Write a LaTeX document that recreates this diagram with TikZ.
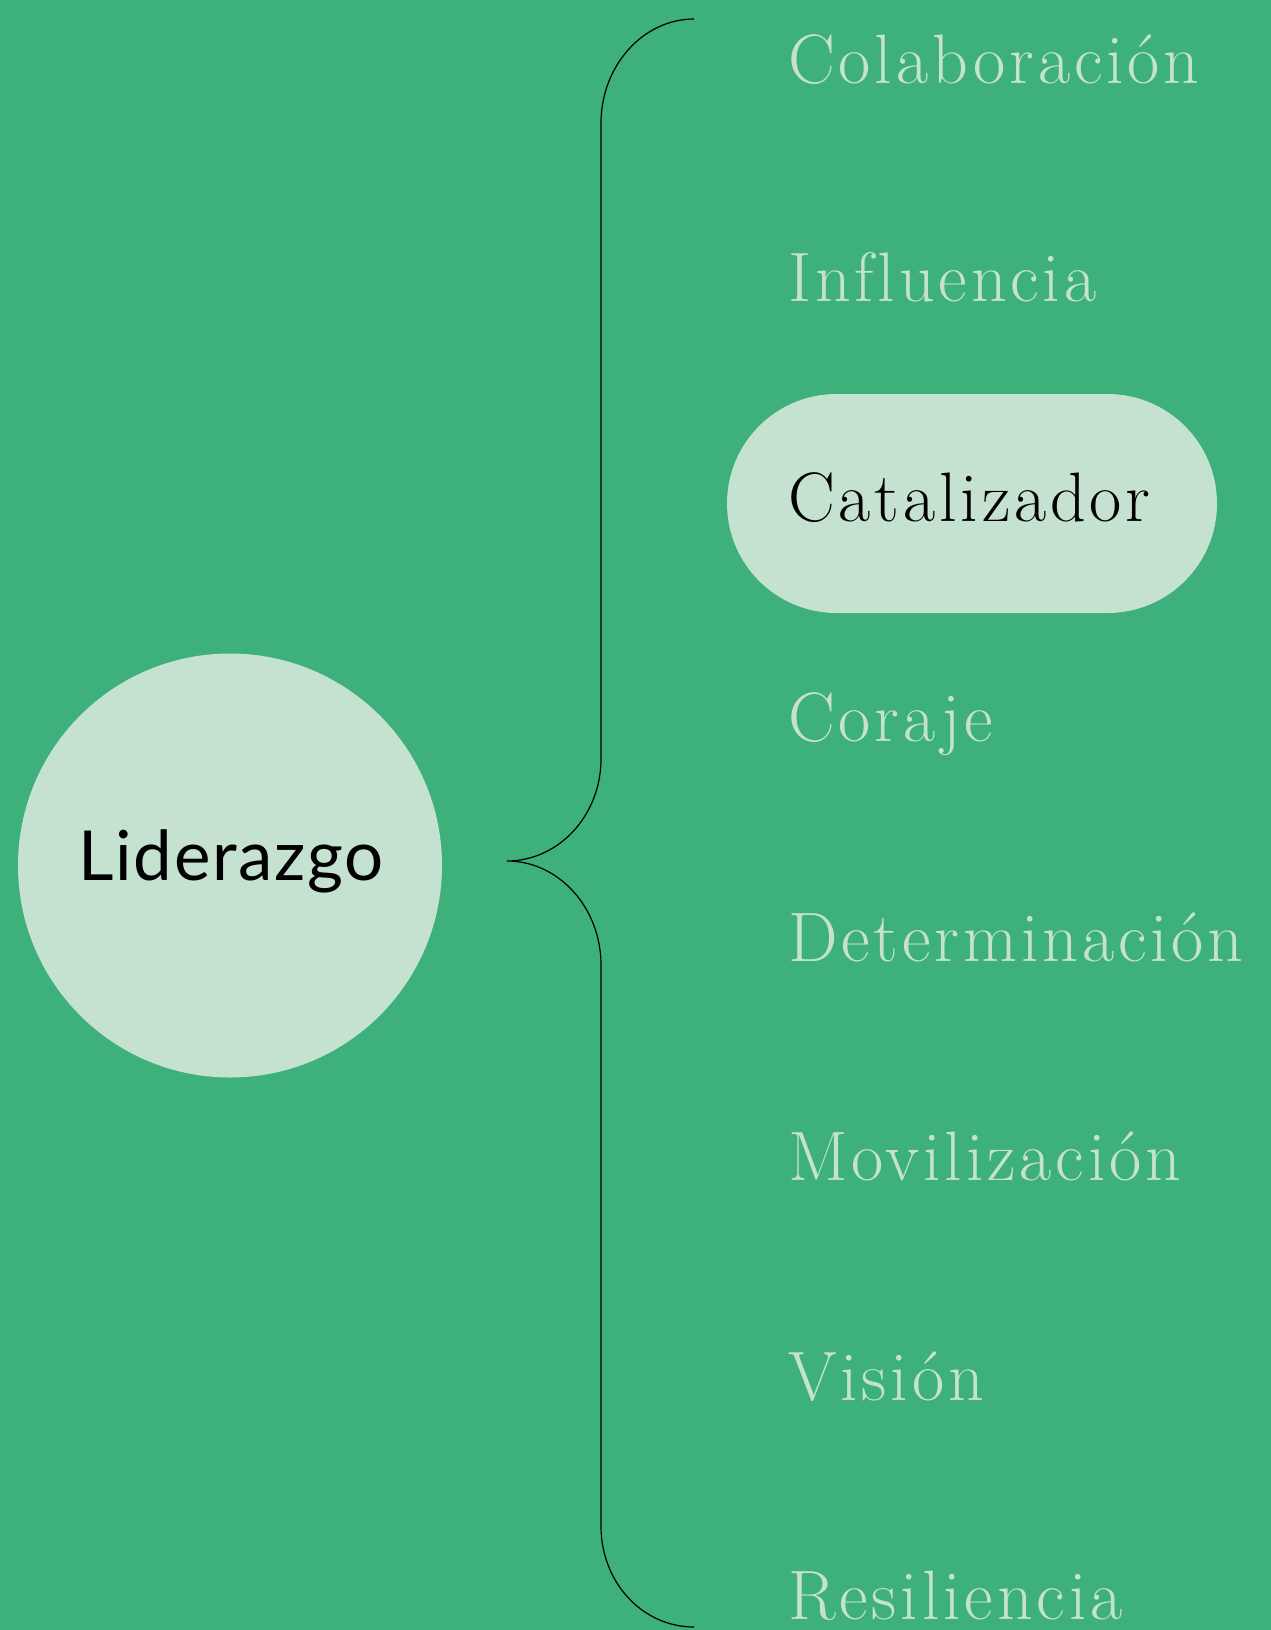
\documentclass[tikz,border=0pt]{standalone}
\usepackage{fontspec}
\usetikzlibrary{shapes.misc}
\newfontfamily\labelsans{Lato}[LetterSpace=2.5]
\newfontfamily\itemserif{lmroman17-regular.otf}[LetterSpace=5.5, Ligatures=NoCommon]
\definecolor{bggreen}{HTML}{3DB07B}
\definecolor{palegreen}{HTML}{C5E1CF}
\tikzset{
  item/.style={anchor=base west, inner sep=0pt, text=palegreen, font=\itemserif\fontsize{70}{84}\selectfont},
  activeitem/.style={item, text=black},
  pill/.style={rounded rectangle, fill=palegreen, minimum width=490pt, minimum height=219pt, inner sep=0pt},
  hub/.style={circle, fill=palegreen, minimum size=424pt, inner sep=0pt},
  hublabel/.style={anchor=base, inner sep=0pt, text=black, font=\labelsans\fontsize{69}{80}\selectfont},
  bracestroke/.style={draw=black, line width=1.2pt},
}
\begin{document}
\begin{tikzpicture}[x=1pt,y=-1pt]
\fill[bggreen] (0,0) rectangle (1271,1630);
\useasboundingbox (0,0) rectangle (1271,1630);
\node[hub] (hub) at (230,865.5) {};
\node[hublabel] (hubtext) at (231,880.7) {Liderazgo};
\node[pill] (pill) at (972,503.5) {};
\coordinate (btop) at (694,19);
\coordinate (bupper) at (601,123);
\coordinate (bmidA) at (601,759);
\coordinate (btip) at (507,861);
\coordinate (bmidB) at (601,965);
\coordinate (blower) at (601,1526);
\coordinate (bbot) at (694,1627);
\draw[bracestroke] (btop) .. controls (643,19) and (601,66) .. (bupper) -- (bmidA)
  .. controls (601,815) and (559,861) .. (btip)
  .. controls (559,861) and (601,908) .. (bmidB) -- (blower)
  .. controls (601,1583) and (643,1627) .. (bbot);
\node[item] (colab) at (788,83) {Colaboración};
\node[item] (influ) at (788,301.5) {Influencia};
\node[activeitem] (catal) at (788,521.7) {Catalizador};
\node[item] (coraje) at (788,741) {Coraje};
\node[item] (deter) at (788,961.3) {Determinación};
\node[item] (movil) at (788,1180.7) {Movilización};
\node[item] (vision) at (788,1400) {Visión};
\node[item] (resil) at (788,1619) {Resiliencia};
\end{tikzpicture}
\end{document}
